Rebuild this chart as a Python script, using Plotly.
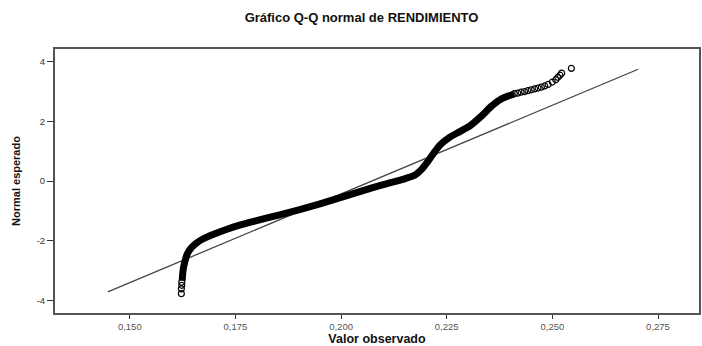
import plotly.graph_objects as go

# Observed value (x) vs expected normal (y) — traced Q-Q points
band_x = [0.1624, 0.1626, 0.1630, 0.1636, 0.1645, 0.1658, 0.1675, 0.1700, 0.1730, 0.1760,
          0.1800, 0.1850, 0.1900, 0.1950, 0.2000, 0.2050, 0.2100, 0.2150, 0.2175, 0.2190,
          0.2205, 0.2220, 0.2235, 0.2255, 0.2280, 0.2305, 0.2330, 0.2355, 0.2375, 0.2395,
          0.2410]
band_y = [-3.35, -3.00, -2.72, -2.45, -2.25, -2.08, -1.93, -1.78, -1.62, -1.48,
          -1.33, -1.15, -0.97, -0.77, -0.55, -0.33, -0.12, 0.07, 0.20, 0.38,
          0.65, 0.95, 1.22, 1.45, 1.65, 1.85, 2.15, 2.50, 2.72, 2.85,
          2.92]

tail_low_x = [0.1622, 0.1622, 0.1623, 0.1623]
tail_low_y = [-3.78, -3.62, -3.50, -3.40]

tail_high_x = [0.2410, 0.2418, 0.2426, 0.2434, 0.2442, 0.2450, 0.2458, 0.2466, 0.2474,
               0.2482, 0.2490, 0.2500, 0.2508, 0.2513, 0.2518, 0.2522, 0.2545]
tail_high_y = [2.93, 2.95, 2.98, 3.00, 3.03, 3.06, 3.09, 3.12, 3.15,
               3.19, 3.24, 3.32, 3.40, 3.48, 3.55, 3.62, 3.78]

# Reference line endpoints
line_x = [0.1448, 0.2703]
line_y = [-3.72, 3.75]

x_ticks = [0.150, 0.175, 0.200, 0.225, 0.250, 0.275]
y_ticks = [-4, -2, 0, 2, 4]
y_ticktext = ["-4", "-2", "0", "2", "4"]

fig = go.Figure()
fig.add_trace(go.Scatter(x=line_x, y=line_y, mode="lines",
                         line=dict(color="#444", width=1.3), hoverinfo="skip"))
fig.add_trace(go.Scatter(x=band_x, y=band_y, mode="lines",
                         line=dict(color="black", width=7, shape="spline", smoothing=0.6)))
fig.add_trace(go.Scatter(x=tail_low_x + tail_high_x, y=tail_low_y + tail_high_y, mode="markers",
                         marker=dict(symbol="circle-open", size=6, color="black",
                                     line=dict(width=1.2, color="black"))))

font_main = "Liberation Sans, Arial, sans-serif"
fig.update_layout(
    width=702, height=346,
    margin=dict(l=55, r=1, t=49, b=31),
    paper_bgcolor="white", plot_bgcolor="white",
    showlegend=False,
    separators=",.",
    font=dict(family=font_main, color="black"),
    title=dict(text="<b>Gráfico Q-Q normal de RENDIMIENTO</b>", x=0.515, xanchor="center",
               y=0.95, yanchor="middle", font=dict(size=13, family=font_main, color="#111")),
)
fig.update_xaxes(range=[0.1323, 0.2847], tickvals=x_ticks, tickformat=".3f",
                 showgrid=False, zeroline=False, showline=True, mirror=True,
                 linewidth=2, linecolor="#555", ticks="outside", ticklen=4, tickcolor="#333",
                 tickfont=dict(size=9.5, color="#555"),
                 title=dict(text="<b>Valor observado</b>", standoff=4,
                            font=dict(size=12.5, color="#111")))
fig.update_yaxes(range=[-4.43, 4.43], tickvals=y_ticks, ticktext=y_ticktext,
                 showgrid=False, zeroline=False, showline=True, mirror=True,
                 linewidth=2, linecolor="#555", ticks="outside", ticklen=6, tickcolor="#333",
                 tickfont=dict(size=9.5, color="#333"),
                 title=dict(text="<b>Normal esperado</b>", standoff=14,
                            font=dict(size=11, color="#111")))

fig.write_html("out.html")
